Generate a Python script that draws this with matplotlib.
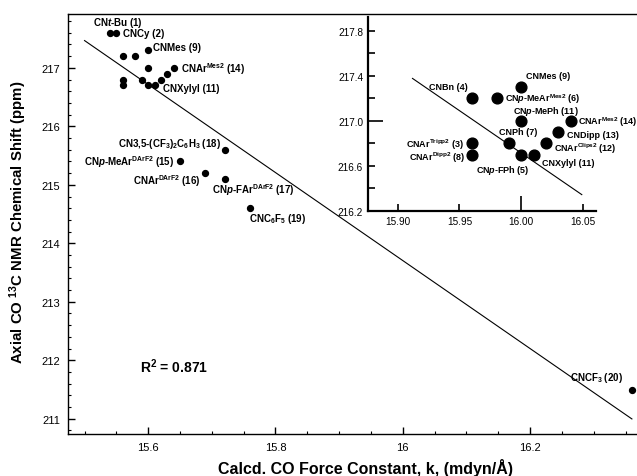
import numpy as np
import matplotlib
matplotlib.use('Agg')
import matplotlib.pyplot as plt

plt.rcParams['font.family'] = ['Liberation Sans', 'DejaVu Sans']
plt.rcParams['mathtext.fontset'] = 'custom'
plt.rcParams['mathtext.rm'] = 'Liberation Sans:bold'
plt.rcParams['mathtext.it'] = 'Liberation Sans:italic:bold'
plt.rcParams['mathtext.bf'] = 'Liberation Sans:bold'
plt.rcParams['mathtext.default'] = 'rm'

# ---- data ----
labels = ['CN$\\it{t}$-Bu (1)', 'CNCy (2)', 'CNAr$^{\\rm Tripp2}$ (3)', 'CNBn (4)',
          'CN$\\it{p}$-FPh (5)', 'CN$\\it{p}$-MeAr$^{\\rm Mes2}$ (6)', 'CNPh (7)',
          'CNAr$^{\\rm Dipp2}$ (8)', 'CNMes (9)', 'CN$\\it{p}$-MePh (11)',
          'CNXylyl (11)', 'CNAr$^{\\rm Clips2}$ (12)', 'CNDipp (13)',
          'CNAr$^{\\rm Mes2}$ (14)', 'CN$\\it{p}$-MeAr$^{\\rm DArF2}$ (15)',
          'CNAr$^{\\rm DArF2}$ (16)', 'CN$\\it{p}$-FAr$^{\\rm DArF2}$ (17)',
          'CN3,5-(CF$_3$)$_2$C$_6$H$_3$ (18)', 'CNC$_6$F$_5$ (19)', 'CNCF$_3$ (20)']
force_k = [15.54, 15.55, 15.56, 15.56, 15.60, 15.58, 15.59, 15.56, 15.60, 15.60,
           15.61, 15.62, 15.63, 15.64, 15.65, 15.69, 15.72, 15.72, 15.76, 16.36]
shift = [217.6, 217.6, 216.8, 217.2, 216.7, 217.2, 216.8, 216.7, 217.3, 217.0,
         216.7, 216.8, 216.9, 217.0, 215.4, 215.2, 215.1, 215.6, 214.6, 211.5]

# inset (expanded view of the aryl cluster, axis as drawn in the figure)
inset_labels = ['CNAr$^{\\rm Tripp2}$ (3)', 'CNBn (4)', 'CN$\\it{p}$-FPh (5)',
                'CN$\\it{p}$-MeAr$^{\\rm Mes2}$ (6)', 'CNPh (7)', 'CNAr$^{\\rm Dipp2}$ (8)',
                'CNMes (9)', 'CN$\\it{p}$-MePh (11)', 'CNXylyl (11)',
                'CNAr$^{\\rm Clips2}$ (12)', 'CNDipp (13)', 'CNAr$^{\\rm Mes2}$ (14)']
inset_k = [15.96, 15.96, 16.00, 15.98, 15.99, 15.96, 16.00, 16.00, 16.01,
           16.02, 16.03, 16.04]
inset_shift = [216.8, 217.2, 216.7, 217.2, 216.8, 216.7, 217.3, 217.0, 216.7,
               216.8, 216.9, 217.0]
inset_k_offset = 0.40   # inset x axis sits 0.40 above the main one

# ---- label placement (pixel offsets from the point, ha) ----
main_lbl = [(-17, -11, 'left'), (7, 0, 'left'), None, None, None, None, None, None,
            (5, -3, 'left'), None, (8, 3, 'left'), None, None, (7, 0, 'left'),
            (-6, 0, 'right'), (-5, 7, 'right'), (-13, 10, 'left'), (-4, -7, 'right'),
            (-1, 10, 'left'), (-9, -13, 'right')]
inset_lbl = [(-8, 0, 'right'), (-4, -12, 'right'), (-18, 15, 'center'), (8, 0, 'left'),
             (9, -12, 'center'), (-7, 2, 'right'), (5, -11, 'left'), (-8, -10, 'left'),
             (8, 8, 'left'), (8, 4, 'left'), (9, 2, 'left'), (7, 0, 'left')]

fit = np.polyfit(force_k, shift, 1)
pred = np.polyval(fit, force_k)
r2 = 1 - np.sum((np.array(shift) - pred) ** 2) / np.sum((np.array(shift) - np.mean(shift)) ** 2)

fig = plt.figure(figsize=(6.37, 4.77), dpi=100)
ax = fig.add_axes([68 / 637, 1 - 435 / 477, (637 - 68) / 637, 420 / 477])

line_x = np.array([15.5, max(force_k)])
ax.plot(line_x, np.polyval(fit, line_x), color='black', lw=0.8)
ax.scatter(force_k, shift, s=18, color='black', zorder=3)

for lab, x, y, pos in zip(labels, force_k, shift, main_lbl):
    if pos is None:
        continue
    ax.annotate(lab, (x, y), xytext=(pos[0], -pos[1]), textcoords='offset pixels',
                ha=pos[2], va='center', fontsize=7, fontweight='bold')

ax.text(15.587, 211.9, f'R$^2$ = {r2:.3f}', fontsize=10, fontweight='bold',
        ha='left', va='center')

ax.set_xlim(15.474, 16.368)
ax.set_ylim(210.74, 217.92)
ax.set_xticks([15.6, 15.8, 16.0, 16.2])
ax.set_xticklabels(['15.6', '15.8', '16', '16.2'])
ax.set_xticks(np.arange(15.5, 16.36, 0.05), minor=True)
ax.set_yticks(np.arange(211, 218))
ax.set_yticks(np.arange(210.8, 217.9, 0.2), minor=True)
ax.tick_params(which='both', direction='in', labelsize=8, pad=5.5)
ax.tick_params(which='major', length=5, width=1)
ax.tick_params(which='minor', length=2.5, width=0.8)
ax.spines['right'].set_visible(False)
for s in ['left', 'bottom', 'top']:
    ax.spines[s].set_linewidth(1.0)

ax.set_xlabel('Calcd. CO Force Constant, k, (mdyn/Å)', fontsize=11.5, fontweight='bold')
ax.xaxis.set_label_coords(0.523, -0.058)
ax.set_ylabel('Axial CO $^{13}$C NMR Chemical Shift (ppm)', fontsize=10.8,
              fontweight='bold')
ax.yaxis.set_label_coords(-0.068, 0.507)

# ---- inset ----
ins = fig.add_axes([368 / 637, 1 - 212 / 477, 228 / 637, 194 / 477])
ins.patch.set_alpha(0)
ins_x = np.array([15.912, 16.049])
ins.plot(ins_x, np.polyval(fit, ins_x - inset_k_offset), color='black', lw=0.8)
ins.scatter(inset_k, inset_shift, s=60, color='black', zorder=3)
for lab, x, y, pos in zip(inset_labels, inset_k, inset_shift, inset_lbl):
    ins.annotate(lab, (x, y), xytext=(pos[0], -pos[1]), textcoords='offset pixels',
                 ha=pos[2], va='center', fontsize=6.5, fontweight='bold')

ins.set_xlim(15.876, 16.0605)
ins.set_ylim(216.2, 217.92)
ins.set_xticks([16.0])
ins.set_xticklabels(['16.00'])
ins.set_xticks([15.90, 15.95, 16.05], minor=True)
ins.set_xticklabels(['15.90', '15.95', '16.05'], minor=True)
ins.set_yticks([217.0])
ins.set_yticklabels(['217.0'])
ins.set_yticks([216.2, 216.4, 216.6, 216.8, 217.2, 217.4, 217.6, 217.8], minor=True)
ins.set_yticklabels(['216.2', '', '216.6', '', '', '217.4', '', '217.8'], minor=True)
ins.tick_params(which='both', direction='in', labelsize=7.2, pad=3.5, width=1.2)
ins.tick_params(which='major', length=11)
ins.tick_params(which='minor', length=5)
ins.spines['top'].set_visible(False)
ins.spines['right'].set_visible(False)
ins.spines['left'].set_linewidth(1.6)
ins.spines['bottom'].set_linewidth(1.6)

plt.savefig('out.png', dpi=100, facecolor='white')
